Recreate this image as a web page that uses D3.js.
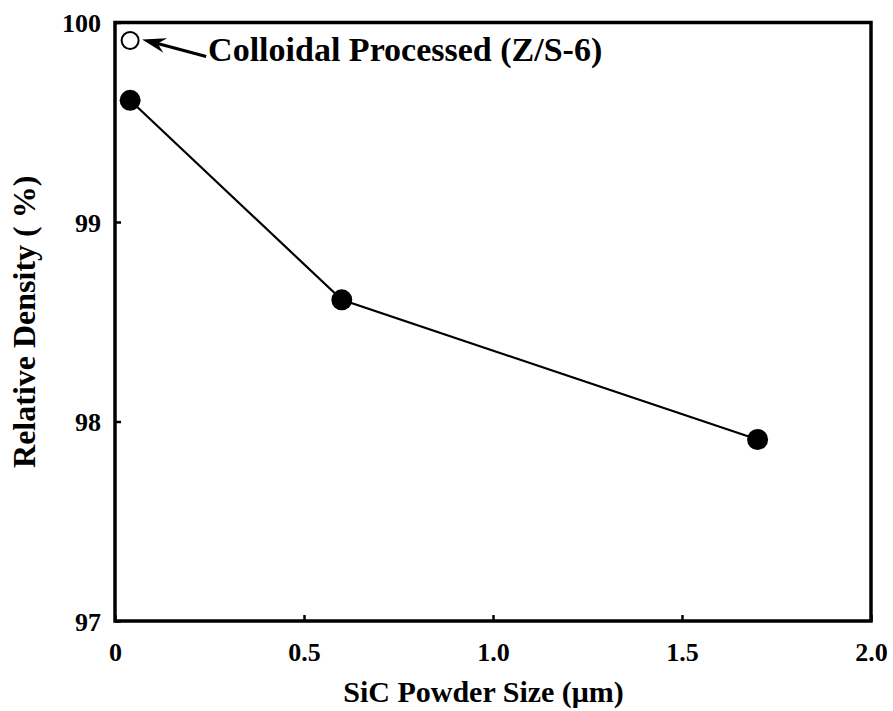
<!DOCTYPE html>
<html>
<head>
<meta charset="utf-8">
<script src="https://cdn.jsdelivr.net/npm/d3@7"></script>
<style>
  html, body { margin: 0; padding: 0; background: #fff; }
  svg { display: block; }
  text { font-family: "Liberation Serif", "Times New Roman", serif; font-weight: bold; fill: #000; }
</style>
</head>
<body>
<script>
// Relative density of hot-pressed samples vs. SiC starting powder size
const powderSize = [0.04, 0.6, 1.7];          // µm
const relDensity = [99.61, 98.61, 97.91];     // %
const colloidalSize = [0.04];
const colloidalDensity = [99.91];
const colloidalLabel = "Colloidal Processed (Z/S-6)";
const xTicks = [0, 0.5, 1.0, 1.5, 2.0];
const xTickLabels = ["0", "0.5", "1.0", "1.5", "2.0"];
const yTicks = [97, 98, 99, 100];
const yTickLabels = ["97", "98", "99", "100"];
const xTitle = "SiC Powder Size (\u03bcm)";
const yTitle = "Relative Density ( %)";

const W = 893, H = 711;
const margin = { top: 22.5, right: 22, bottom: 90, left: 115 };
const iw = W - margin.left - margin.right;
const ih = H - margin.top - margin.bottom;

const svg = d3.select("body").append("svg").attr("width", W).attr("height", H);
const g = svg.append("g").attr("transform", `translate(${margin.left},${margin.top})`);

const x = d3.scaleLinear().domain([0, 2]).range([0, iw]);
const y = d3.scaleLinear().domain([97, 100]).range([ih, 0]);

// inward tick marks on bottom and left axes
const xAxis = d3.axisBottom(x).tickValues(xTicks).tickSize(-6).tickPadding(22)
  .tickFormat((d, i) => xTickLabels[i]);
const yAxis = d3.axisLeft(y).tickValues(yTicks).tickSize(-6).tickPadding(14)
  .tickFormat((d, i) => yTickLabels[i]);

const gx = g.append("g").attr("transform", `translate(0,${ih})`).call(xAxis);
const gy = g.append("g").call(yAxis);
[gx, gy].forEach(a => {
  a.select(".domain").remove();
  a.selectAll(".tick line").attr("stroke", "#000").attr("stroke-width", 2.5);
  a.selectAll(".tick text").style("font-size", "26px")
    .style("font-family", "'Liberation Serif', serif").style("font-weight", "bold");
});
gy.selectAll(".tick text").attr("dy", "0.35em");

// plot frame
g.append("rect").attr("x", 0).attr("y", 0).attr("width", iw).attr("height", ih)
  .attr("fill", "none").attr("stroke", "#000").attr("stroke-width", 3.5);

// axis titles
svg.append("text").attr("x", margin.left + x(0.975)).attr("y", 702)
  .attr("text-anchor", "middle").style("font-size", "30px").text(xTitle);
svg.append("text")
  .attr("transform", `translate(35,${margin.top + y(98.5)}) rotate(-90)`)
  .attr("text-anchor", "middle").style("font-size", "32px").text(yTitle);

// data line and points
const pts = powderSize.map((d, i) => [d, relDensity[i]]);
g.append("path").datum(pts)
  .attr("fill", "none").attr("stroke", "#000").attr("stroke-width", 2.2)
  .attr("d", d3.line().x(d => x(d[0])).y(d => y(d[1])));
g.selectAll("circle.filled").data(pts).enter().append("circle")
  .attr("class", "filled")
  .attr("cx", d => x(d[0])).attr("cy", d => y(d[1])).attr("r", 10.5)
  .attr("fill", "#000");

const cpts = colloidalSize.map((d, i) => [d, colloidalDensity[i]]);
g.selectAll("circle.open").data(cpts).enter().append("circle")
  .attr("class", "open")
  .attr("cx", d => x(d[0])).attr("cy", d => y(d[1])).attr("r", 8.5)
  .attr("fill", "#fff").attr("stroke", "#000").attr("stroke-width", 2);

// annotation arrow pointing at the colloidal sample
const cx0 = x(cpts[0][0]), cy0 = y(cpts[0][1]);
const tip = [cx0 + 12, cy0 - 1], tail = [cx0 + 76, cy0 + 16];
const ang = Math.atan2(tail[1] - tip[1], tail[0] - tip[0]);
const headLen = 24, headHalf = 7.5, notch = 16;
const ux = Math.cos(ang), uy = Math.sin(ang), px = -uy, py = ux;
g.append("line")
  .attr("x1", tip[0] + ux * notch).attr("y1", tip[1] + uy * notch)
  .attr("x2", tail[0]).attr("y2", tail[1])
  .attr("stroke", "#000").attr("stroke-width", 3.2);
g.append("path")
  .attr("d", d3.line()([
    tip,
    [tip[0] + ux * headLen + px * headHalf, tip[1] + uy * headLen + py * headHalf],
    [tip[0] + ux * notch, tip[1] + uy * notch],
    [tip[0] + ux * headLen - px * headHalf, tip[1] + uy * headLen - py * headHalf]
  ]) + "Z")
  .attr("fill", "#000");
g.append("text").attr("x", cx0 + 78).attr("y", cy0 + 21)
  .style("font-size", "34px").text(colloidalLabel);
</script>
</body>
</html>
